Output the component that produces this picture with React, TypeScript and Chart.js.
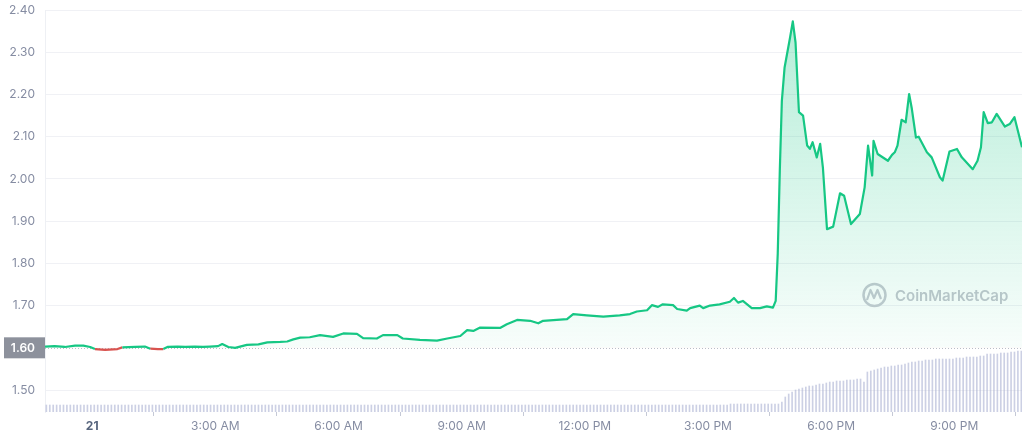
import React, { useEffect, useRef } from "react";
import { Chart, registerables } from "chart.js";

Chart.register(...registerables);

// minutes relative to midnight of the 21st
const priceTimes = [
  -69, -55, -40, -25, -13, -3, 4, 19, 37, 44, 63, 77, 85, 96, 104, 110, 125, 136, 150, 162, 172, 184, 190, 199, 209,
  226, 243, 256, 275, 285, 294, 304, 318, 333, 352, 367, 387, 396, 416, 425, 446, 454, 479, 504, 519, 538, 548, 557,
  567, 596, 606, 621, 640, 652, 659, 679, 694, 703, 723, 747, 771, 786, 796, 811, 818, 827, 834, 849, 855, 869, 874,
  888, 893, 903, 917, 932, 938, 944, 951, 964, 976, 986, 995, 999, 1002, 1005, 1008, 1012, 1020, 1024, 1028, 1033,
  1039, 1045, 1049, 1053, 1059, 1064, 1068, 1074, 1083, 1093, 1099, 1109, 1122, 1129, 1134, 1140, 1142, 1148, 1163,
  1169, 1173, 1177, 1183, 1189, 1194, 1198, 1204, 1208, 1220, 1227, 1239, 1243, 1253, 1264, 1271, 1287, 1294, 1299,
  1303, 1309, 1315, 1322, 1334, 1341, 1348, 1359,
];
const priceValues = [
  1.603, 1.604, 1.602, 1.605, 1.605, 1.602, 1.597, 1.595, 1.597, 1.601, 1.602, 1.603, 1.598, 1.597, 1.597, 1.602,
  1.603, 1.602, 1.603, 1.602, 1.603, 1.604, 1.609, 1.602, 1.6, 1.607, 1.608, 1.613, 1.614, 1.615, 1.62, 1.624, 1.625,
  1.63, 1.626, 1.634, 1.633, 1.623, 1.622, 1.63, 1.63, 1.622, 1.619, 1.617, 1.622, 1.628, 1.642, 1.64, 1.648, 1.647,
  1.656, 1.666, 1.664, 1.658, 1.664, 1.666, 1.668, 1.68, 1.677, 1.674, 1.677, 1.68, 1.686, 1.689, 1.701, 1.697, 1.703,
  1.701, 1.692, 1.688, 1.694, 1.7, 1.694, 1.7, 1.703, 1.709, 1.718, 1.707, 1.711, 1.694, 1.694, 1.698, 1.695, 1.711,
  1.823, 2.019, 2.185, 2.264, 2.335, 2.373, 2.323, 2.158, 2.15, 2.079, 2.071, 2.087, 2.051, 2.083, 2.027, 1.881, 1.887,
  1.966, 1.96, 1.893, 1.917, 1.98, 2.079, 2.008, 2.09, 2.059, 2.043, 2.057, 2.063, 2.079, 2.14, 2.134, 2.201, 2.166,
  2.098, 2.1, 2.063, 2.051, 2.004, 1.996, 2.065, 2.071, 2.051, 2.023, 2.043, 2.075, 2.158, 2.132, 2.134, 2.154, 2.124,
  2.13, 2.146, 2.075,
];

const openPrice = 1.6;

// volume bars every 5 minutes starting at -67 min; runs of [height, count]
const volumeStart = -67;
const volumeStep = 5;
const volumeRuns: [number, number][] = [
  [7, 200], [8, 15], [10, 1], [15, 1], [18, 1], [20, 1], [22, 1], [23, 1], [24, 1], [25, 1], [26, 2], [27, 1],
  [28, 2], [29, 1], [30, 2], [31, 3], [32, 3], [33, 2], [30, 1], [40, 1], [41, 1], [42, 1], [43, 1], [44, 1],
  [45, 2], [46, 2], [47, 2], [48, 1], [49, 1], [50, 2], [51, 2], [52, 3], [53, 6], [54, 3], [55, 4], [56, 2],
  [58, 4], [59, 3], [60, 2], [61, 2],
];

const yTicks = [1.5, 1.6, 1.7, 1.8, 1.9, 2.0, 2.1, 2.2, 2.3, 2.4];
const xTickTimes = [0, 180, 360, 540, 720, 900, 1080, 1260];
const xTickLabels = ["21", "3:00 AM", "6:00 AM", "9:00 AM", "12:00 PM", "3:00 PM", "6:00 PM", "9:00 PM"];

const GREEN = "#16c784";
const RED = "#d9534f";
const FONT = "Inter, 'Noto Sans', sans-serif";

export default function App() {
  const canvasRef = useRef<HTMLCanvasElement | null>(null);

  useEffect(() => {
    const canvas = canvasRef.current;
    if (!canvas) return;

    const volumeValues: number[] = [];
    volumeRuns.forEach(([h, c]) => {
      for (let k = 0; k < c; k++) volumeValues.push(h);
    });
    const volumeData = volumeValues.map((v, i) => ({ x: volumeStart + i * volumeStep, y: v }));
    const priceData = priceTimes.map((t, i) => ({ x: t, y: priceValues[i] }));

    const overlayPlugin = {
      id: "overlay",
      beforeDatasetsDraw(chart: any) {
        const { ctx, chartArea } = chart;
        const y = chart.scales.y.getPixelForValue(openPrice);
        ctx.save();
        ctx.strokeStyle = "#b9bdc7";
        ctx.lineWidth = 1;
        ctx.setLineDash([1, 2]);
        ctx.beginPath();
        ctx.moveTo(chartArea.left, Math.round(y) + 0.5);
        ctx.lineTo(chartArea.right, Math.round(y) + 0.5);
        ctx.stroke();
        ctx.setLineDash([]);
        // watermark
        ctx.strokeStyle = "#c6c9d1";
        ctx.lineWidth = 2.5;
        ctx.beginPath();
        ctx.arc(874.5, 295, 11, 0, Math.PI * 2);
        ctx.stroke();
        ctx.lineWidth = 2.2;
        ctx.lineJoin = "round";
        ctx.beginPath();
        ctx.moveTo(867, 300);
        ctx.lineTo(870.5, 290);
        ctx.lineTo(874, 298);
        ctx.lineTo(877.5, 290);
        ctx.lineTo(881, 299);
        ctx.stroke();
        ctx.fillStyle = "#c3c6ce";
        ctx.font = `600 15px ${FONT}`;
        ctx.textAlign = "left";
        ctx.textBaseline = "alphabetic";
        ctx.fillText("CoinMarketCap", 895, 301);
        ctx.restore();
      },
      afterDraw(chart: any) {
        const { ctx } = chart;
        const y = chart.scales.y.getPixelForValue(openPrice);
        ctx.save();
        ctx.fillStyle = "#8d919c";
        ctx.fillRect(4, y - 10.5, 41, 21);
        ctx.fillStyle = "#ffffff";
        ctx.font = `600 12px ${FONT}`;
        ctx.textAlign = "right";
        ctx.textBaseline = "middle";
        ctx.fillText(openPrice.toFixed(2), 35, y + 0.5);
        ctx.restore();
      },
    };

    const chart = new Chart(canvas, {
      data: {
        datasets: [
          {
            type: "line",
            data: priceData,
            yAxisID: "y",
            borderColor: GREEN,
            borderWidth: 2.2,
            pointRadius: 0,
            tension: 0,
            borderJoinStyle: "round",
            order: 1,
            fill: { target: { value: openPrice }, above: "rgba(22,199,132,0.15)", below: "rgba(234,57,67,0.08)" },
            segment: {
              borderColor: (c: any) =>
                c.p0.parsed.y < openPrice && c.p1.parsed.y < openPrice + 0.002 ? RED : c.p1.parsed.y < openPrice && c.p0.parsed.y < openPrice + 0.002 ? RED : undefined,
            },
          } as any,
          {
            type: "bar",
            data: volumeData,
            yAxisID: "yv",
            backgroundColor: "rgba(170,176,210,0.6)",
            barThickness: 1,
            order: 2,
          } as any,
        ],
      },
      options: {
        animation: false,
        responsive: true,
        maintainAspectRatio: false,
        layout: { padding: { top: 10, right: 2, left: 0, bottom: 0 } },
        plugins: { legend: { display: false }, tooltip: { enabled: false } },
        scales: {
          x: {
            type: "linear",
            min: -69,
            max: 1359,
            offset: false,
            border: { display: false },
            grid: { drawOnChartArea: false, drawTicks: true, tickLength: 4, color: "#c5c9d6" },
            afterBuildTicks: (s: any) => {
              s.ticks = xTickTimes.map((v) => ({ value: v }));
            },
            afterFit: (s: any) => {
              s.height = 29;
            },
            ticks: {
              padding: 3,
              maxRotation: 0,
              autoSkip: false,
              color: (c: any) => (c.index === 0 ? "#58667e" : "#858ca2"),
              font: (c: any) => ({ family: FONT, size: 12, weight: c.index === 0 ? "bold" : "normal" }),
              callback: (_v: any, i: number) => xTickLabels[i],
            },
          },
          y: {
            type: "linear",
            position: "left",
            min: 1.448,
            max: 2.4,
            border: { display: true, color: "#eef0f4" },
            grid: {
              drawTicks: true,
              tickLength: 10,
              tickColor: "rgba(0,0,0,0)",
              color: (c: any) => (c.tick && Math.abs(c.tick.value - openPrice) < 1e-6 ? "rgba(0,0,0,0)" : "#f0f1f5"),
            },
            afterBuildTicks: (s: any) => {
              s.ticks = yTicks.map((v) => ({ value: v }));
            },
            afterFit: (s: any) => {
              s.width = 45;
            },
            ticks: {
              padding: 0,
              color: "#858ca2",
              font: { family: FONT, size: 12 },
              callback: (v: any) => Number(v).toFixed(2),
            },
          },
          yv: {
            type: "linear",
            display: false,
            min: 0,
            max: 402,
          },
        },
      },
      plugins: [overlayPlugin],
    } as any);

    // vertical gradient for the area above the opening price
    const area = chart.chartArea;
    const baseY = chart.scales.y.getPixelForValue(openPrice);
    const g = chart.ctx.createLinearGradient(0, area.top, 0, baseY);
    g.addColorStop(0, "rgba(22,199,132,0.32)");
    g.addColorStop(1, "rgba(22,199,132,0.03)");
    (chart.data.datasets[0] as any).fill = {
      target: { value: openPrice },
      above: g,
      below: "rgba(234,57,67,0.08)",
    };
    chart.update("none");

    return () => chart.destroy();
  }, []);

  return (
    <div style={{ position: "fixed", left: 0, top: 0, width: 1024, height: 441, background: "#ffffff" }}>
      <canvas ref={canvasRef} />
    </div>
  );
}
